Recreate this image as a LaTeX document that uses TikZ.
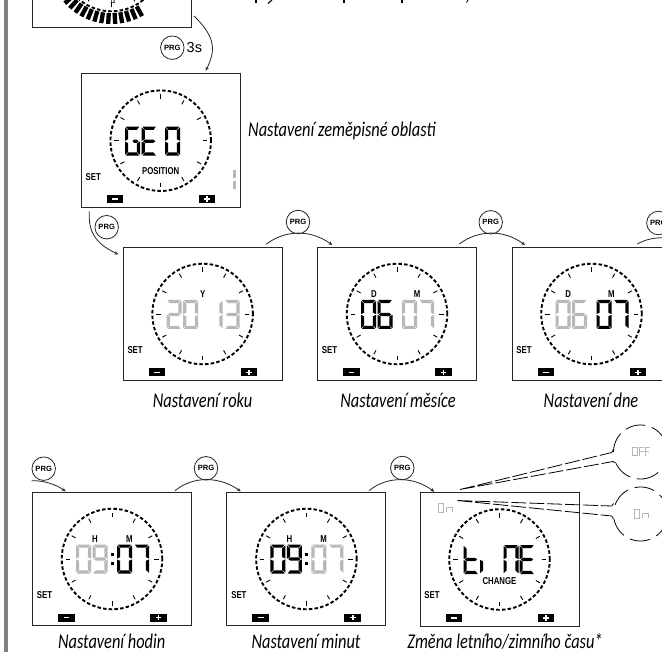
\documentclass[tikz,border=0pt]{standalone}
\usepackage{fontspec}
\setmainfont{Liberation Sans}
\newfontfamily\capfont[FakeStretch=0.78]{Carlito}
\newfontfamily\lcdfont[FakeStretch=0.78]{Liberation Sans}
\usetikzlibrary{arrows.meta}
\definecolor{lcdg}{HTML}{B8B8B8}
\definecolor{railg}{HTML}{808080}
\tikzset{
  lcdbox/.style={draw=black!85,line width=1pt,minimum width=159pt,minimum height=133.5pt,inner sep=0pt,fill=none},
  prgbtn/.style={circle,draw=black!85,line width=0.8pt,minimum size=23.5pt,inner sep=0pt,font=\fontsize{7.6}{8}\selectfont\bfseries},
  flow/.style={draw=black!85,line width=0.8pt,-{Stealth[length=3.8pt,width=3.4pt]}},
  captxt/.style={inner sep=0pt,font=\fontsize{21}{23}\capfont\itshape,anchor=base},
  lcdlab/.style={inner sep=0pt,font=\fontsize{10}{11}\lcdfont\bfseries},
  ringdash/.style={line width=1.9pt,dash pattern=on 3.5pt off 2.2pt},
  callout/.style={line width=0.8pt,dash pattern=on 15pt off 3pt},
  bubble/.style={line width=0.8pt,dash pattern=on 20pt off 7pt},
}
% seven segment parts, 15 x 29
\def\sga#1{\fill[#1] (0.8,0)--(14.2,0)--(11.8,3.2)--(3.2,3.2)--cycle;}
\def\sgb#1{\fill[#1] (15,0.8)--(11.8,3.8)--(11.8,12.6)--(15,14.1)--cycle;}
\def\sgc#1{\fill[#1] (15,14.9)--(11.8,16.4)--(11.8,25.4)--(15,28.2)--cycle;}
\def\sgd#1{\fill[#1] (0.8,29)--(14.2,29)--(11.8,25.8)--(3.2,25.8)--cycle;}
\def\sge#1{\fill[#1] (0,14.9)--(3.2,16.4)--(3.2,25.4)--(0,28.2)--cycle;}
\def\sgf#1{\fill[#1] (0,0.8)--(3.2,3.8)--(3.2,12.6)--(0,14.1)--cycle;}
\def\sgg#1{\fill[#1] (1.3,14.5)--(3.4,12.9)--(11.6,12.9)--(13.7,14.5)--(11.6,16.1)--(3.4,16.1)--cycle;}
\def\sgh#1{\fill[#1] (7.5,14.5)--(9,12.9)--(11.6,12.9)--(13.7,14.5)--(11.6,16.1)--(9,16.1)--cycle;}
\newcommand\dig[4]{\begin{scope}[shift={({#2},{#3})}]\foreach \s in {#4}{\csname sg\s\endcsname{#1}}\end{scope}}
% dial: name, cx, cy
\newcommand\dial[3]{%
  \node[lcdbox] (#1) at (#2,#3) {};
  \draw[ringdash,black] (#2,#3) circle[radius=50.3pt];
  \foreach \a in {0,30,...,330}{\draw[black,line width=0.9pt] ({#2+42*cos(\a)},{#3+42*sin(\a)}) -- ({#2+46.5*cos(\a)},{#3+46.5*sin(\a)});}
}
% dial with SET and buttons
\newcommand\clockface[3]{%
  \dial{#1}{#2}{#3}
  \node[lcdlab,anchor=west] at ({#2-75.3},{#3+36}) {SET};
  \fill[black] ({#2-54},{#3+54.5}) rectangle +(16.6,8);
  \fill[white] ({#2-48.5},{#3+57.8}) rectangle +(5.6,1.6);
  \fill[black] ({#2+38},{#3+54.5}) rectangle +(16.6,8);
  \fill[white] ({#2+43.5},{#3+57.8}) rectangle +(5.6,1.6);
  \fill[white] ({#2+45.5},{#3+55.8}) rectangle +(1.6,5.6);
}
\begin{document}
\begin{tikzpicture}[x=1pt,y=-1pt]
\clip (0,0) rectangle (662,652);
\fill[white] (0,0) rectangle (662,652);
\fill[railg] (4.2,0) rectangle (8.2,652);
% cut-off line of text at the top edge
\foreach \x in {256,344,402}{\draw[black,line width=1.1pt] (\x,0) -- (\x,3);}
\draw[black,line width=1.1pt] (272,0) -- (268,3.5);
\draw[black,line width=0.9pt] (468,0) -- (466.5,2.5);
% top box
\dial{top}{111.5}{-39}
\foreach \a in {61,67.4,...,142}{\draw[black,line width=4.3pt] ({111.5+52*cos(\a)},{-39+52*sin(\a)}) -- ({111.5+63*cos(\a)},{-39+63*sin(\a)});}
\node[inner sep=0pt,font=\fontsize{6}{6}\lcdfont\bfseries] (twelve) at (113,1.5) {12};
% GEO
\clockface{geo}{160.7}{140.7}
\dig{black}{160.7-35.7}{140.7-14}{a,f,e,d,c,h}
\dig{black}{160.7-19}{140.7-14}{a,f,g,e,d}
\dig{black}{160.7+4.3}{140.7-14}{a,b,c,d,e,f}
\node[lcdlab] (lpos) at (160.7,170.7) {POSITION};
\fill[lcdg] (233,170) rectangle (235.6,178);
\fill[lcdg] (233,181) rectangle (235.6,189);
% row 2
\clockface{year}{202.6}{314}
\dig{lcdg}{202.6-36}{300}{a,b,g,e,d}
\dig{lcdg}{202.6-19.5}{300}{a,b,c,d,e,f}
\dig{lcdg}{202.6+5}{300}{b,c}
\dig{lcdg}{202.6+22}{300}{a,b,c,d,g}
\node[lcdlab] (ly) at (202.7,294) {Y};
\clockface{month}{397}{314}
\dig{black}{397-36}{300}{a,b,c,d,e,f}
\dig{black}{397-19.5}{300}{a,c,d,e,f,g}
\dig{lcdg}{397+5}{300}{a,b,c,d,e,f}
\dig{lcdg}{397+22}{300}{a,b,c}
\node[lcdlab] (ld1) at (374,294) {D};
\node[lcdlab] (lm1) at (417,294) {M};
\clockface{day}{591.5}{314}
\dig{lcdg}{591.5-36}{300}{a,b,c,d,e,f}
\dig{lcdg}{591.5-19.5}{300}{a,c,d,e,f,g}
\dig{black}{591.5+5}{300}{a,b,c,d,e,f}
\dig{black}{591.5+22}{300}{a,b,c}
\node[lcdlab] (ld2) at (568.3,294) {D};
\node[lcdlab] (lm2) at (611.3,294) {M};
% row 3
\clockface{hour}{112}{559}
\dig{lcdg}{112-36}{544.5}{a,b,c,d,e,f}
\dig{lcdg}{112-19.5}{544.5}{a,b,c,d,f,g}
\dig{black}{112+5}{544.5}{a,b,c,d,e,f}
\dig{black}{112+22}{544.5}{a,b,c}
\fill[black] (110.8,553) rectangle +(2.8,2.8);
\fill[black] (110.8,562) rectangle +(2.8,2.8);
\node[lcdlab] (lh1) at (95,538.7) {H};
\node[lcdlab] (lm3) at (129.3,538.7) {M};
\clockface{minute}{306.4}{559}
\dig{black}{306.4-36}{544.5}{a,b,c,d,e,f}
\dig{black}{306.4-19.5}{544.5}{a,b,c,d,f,g}
\dig{lcdg}{306.4+5}{544.5}{a,b,c,d,e,f}
\dig{lcdg}{306.4+22}{544.5}{a,b,c}
\fill[black] (305.2,553) rectangle +(2.8,2.8);
\fill[black] (305.2,562) rectangle +(2.8,2.8);
\node[lcdlab] (lh2) at (289.5,538.7) {H};
\node[lcdlab] (lm4) at (323.7,538.7) {M};
\clockface{change}{499.5}{559.5}
\dig{black}{499.5-36}{545}{f,e,d,g}
\dig{black}{499.5-19.5}{545}{e}
\dig{black}{499.5+4}{545}{a,b,c,e,f}
\dig{black}{499.5+20}{545}{a,f,g,e,d}
\node[lcdlab] (lchg) at (499.5,580.7) {CHANGE};
% small On / OFF
\begin{scope}[draw=lcdg,line width=1pt]
\draw (438.5,503.5) rectangle (443.5,512);
\draw (446.5,512) -- (446.5,507) -- (452,507) -- (452,512);
\draw (632.5,447.5) rectangle (637.5,456);
\draw (639.5,456) -- (639.5,447.5) -- (644,447.5) (639.5,451.5) -- (643.5,451.5);
\draw (645,456) -- (645,447.5) -- (649.5,447.5) (645,451.5) -- (649,451.5);
\draw (634.5,509.5) rectangle (639.5,518);
\draw (642.5,518) -- (642.5,513) -- (648,513) -- (648,518);
\end{scope}
% callouts
\coordinate (c1s) at (460,489.5);
\coordinate (c1a) at (611.7,452.5);
\coordinate (c1b) at (613,461.5);
\coordinate (c2s) at (457.3,500.5);
\coordinate (c2a) at (611.7,506);
\coordinate (c2b) at (611.7,516);
\draw[callout] (c1s) -- (c1a) (c1s) -- (c1b);
\draw[callout] (c2s) -- (c2a) (c2s) -- (c2b);
\draw[bubble] plot[smooth,domain=-180:70,samples=60] ({640.5+27*cos(\x)},{452+27*sin(\x)});
\draw[bubble] plot[smooth,domain=155:70,samples=30] ({640.5+27*cos(\x)},{452+27*sin(\x)});
\draw[bubble] plot[smooth,domain=-160:70,samples=60] ({640.5+27*cos(\x)},{514+27*sin(\x)});
\draw[bubble] plot[smooth,domain=170:70,samples=30] ({640.5+27*cos(\x)},{514+27*sin(\x)});
\draw[line width=0.8pt] (c1a) -- (613.5,449.5);
\draw[line width=0.8pt] (c1b) -- (615.6,463);
\draw[line width=0.8pt] (c2a) -- (613.6,503.5);
\draw[line width=0.8pt] (c2b) -- (613.4,518.7);
% PRG buttons and arrows
\node[prgbtn] (p0) at (172.3,47.7) {PRG};
\node[inner sep=0pt,anchor=west,font=\fontsize{14.5}{15}\selectfont] (s3) at (186.5,48) {3s};
\node[prgbtn] (p1) at (106.7,227.2) {PRG};
\node[prgbtn] (p2) at (298,222) {PRG};
\node[prgbtn] (p3) at (490.7,222.3) {PRG};
\node[prgbtn] (p4) at (658.4,223) {PRG};
\node[prgbtn] (p5) at (43.7,468.7) {PRG};
\node[prgbtn] (p6) at (206,468.3) {PRG};
\node[prgbtn] (p7) at (402.3,468) {PRG};
\coordinate (a0s) at (194,16); \coordinate (a0e) at (205.7,70.7);
\coordinate (a1s) at (89.3,211.3); \coordinate (a1e) at (118.3,254.3);
\coordinate (a2s) at (266,244.3); \coordinate (a2e) at (332.3,245);
\coordinate (a3s) at (459.3,244); \coordinate (a3e) at (525,245);
\coordinate (a4s) at (637.3,244); \coordinate (a4e) at (690,240);
\coordinate (a5s) at (31.7,480.7); \coordinate (a5e) at (65.7,491.3);
\coordinate (a6s) at (175,490.7); \coordinate (a6e) at (240.7,491.3);
\coordinate (a7s) at (369,490.7); \coordinate (a7e) at (434.3,491.7);
\draw[flow] (a0s) .. controls (217,38) and (215,52) .. (a0e);
\draw[flow] (a1s) .. controls (88,232) and (96,244) .. (a1e);
\draw[flow] (a2s) .. controls (285,230) and (310,229) .. (a2e);
\draw[flow] (a3s) .. controls (478,230) and (503,229) .. (a3e);
\draw[line width=0.8pt,draw=black!85] (a4s) .. controls (648,238) and (660,235.5) .. (a4e);
\draw[flow] (a5s) .. controls (44,480.5) and (55,484) .. (a5e);
\draw[flow] (a6s) .. controls (193,476) and (219,476) .. (a6e);
\draw[flow] (a7s) .. controls (387,476) and (413,476) .. (a7e);
% captions
\node[captxt,anchor=base west] (t0) at (248,137) {Nastavení zeměpisné oblasti};
\node[captxt] (t1) at (202.5,407.5) {Nastavení roku};
\node[captxt] (t2) at (398,407.5) {Nastavení měsíce};
\node[captxt] (t3) at (591,407.5) {Nastavení dne};
\node[captxt] (t4) at (111.7,648.5) {Nastavení hodin};
\node[captxt] (t5) at (306,648.5) {Nastavení minut};
\node[captxt] (t6) at (505,648.5) {Změna letního/zimního času*};
\end{tikzpicture}
\end{document}
